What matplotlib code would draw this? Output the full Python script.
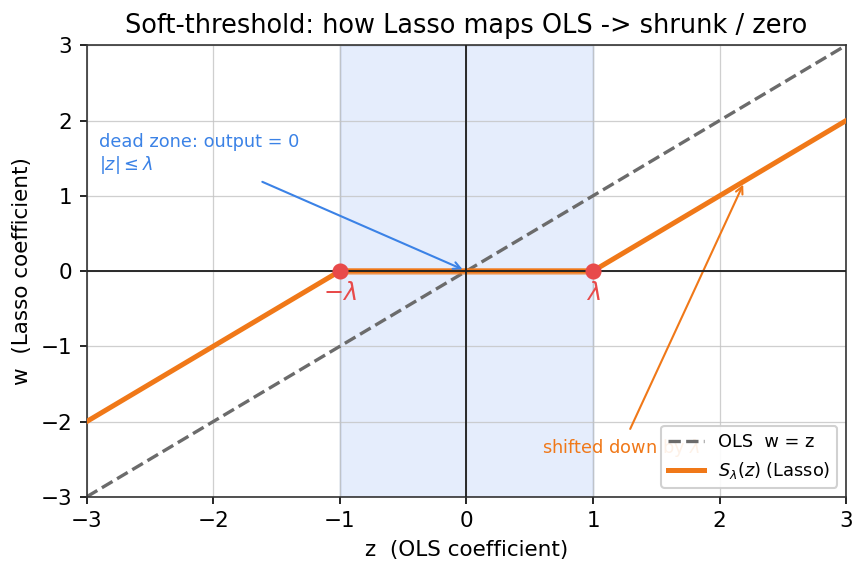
import numpy as np
import matplotlib.pyplot as plt

lam = 1.0
z_knots = [-3, -1, 1, 3]
w_lasso = [-2, 0, 0, 2]
z_ols = [-3, 3]
w_ols = [-3, 3]
thresholds = [-1, 1]
threshold_labels = [r"$-\lambda$", r"$\lambda$"]

fig, ax = plt.subplots(figsize=(5.78, 3.82), dpi=150)
fig.subplots_adjust(left=0.100, right=0.976, top=0.921, bottom=0.133)

ax.axvspan(-lam, lam, facecolor="#e3ecfc", edgecolor="#a9bcdc", linewidth=0.7, alpha=0.9, zorder=0)
ax.grid(True, color="#c4c4c4", linewidth=0.6, alpha=0.8)

ax.plot(z_ols, w_ols, linestyle="--", color="#6b6b6b", linewidth=1.6, label="OLS  w = z", zorder=2)
ax.plot(z_knots, w_lasso, color="#f07818", linewidth=2.4, label=r"$S_\lambda(z)$ (Lasso)", zorder=3)
ax.plot([-lam, lam], [0, 0], color="#f07818", linewidth=3.2, alpha=0.5, zorder=3)

ax.axhline(0, color="#222222", linewidth=0.9, zorder=4)
ax.axvline(0, color="#222222", linewidth=0.9, zorder=4)

ax.scatter(thresholds, [0, 0], s=45, color="#e84a4a", zorder=5)
for t, lbl in zip(thresholds, threshold_labels):
    ax.text(t, -0.13, lbl, color="#e84a4a", fontsize=11.5, ha="center", va="top")

ax.annotate("dead zone: output = 0\n" + r"$|z| \leq \lambda$", xy=(0, 0), xytext=(-2.9, 1.55),
            color="#3b82e6", fontsize=8.5, ha="left", va="center",
            arrowprops=dict(arrowstyle="->", color="#3b82e6", linewidth=1))
ax.annotate(r"shifted down by $\lambda$", xy=(2.2, 1.2), xytext=(0.6, -2.35),
            color="#f07818", fontsize=8.5, ha="left", va="center",
            arrowprops=dict(arrowstyle="->", color="#f07818", linewidth=1))

ax.set_xlim(-3, 3)
ax.set_ylim(-3, 3)
for sp in ax.spines.values():
    sp.set_color("#333333")
ax.set_xlabel("z  (OLS coefficient)", fontsize=10.3)
ax.set_ylabel("w  (Lasso coefficient)", fontsize=10.3)
ax.set_title("Soft-threshold: how Lasso maps OLS -> shrunk / zero", fontsize=12.3)
ax.tick_params(labelsize=10.3)
ax.legend(loc="lower right", fontsize=8.5, framealpha=0.9)

plt.savefig("out.png", dpi=150)
